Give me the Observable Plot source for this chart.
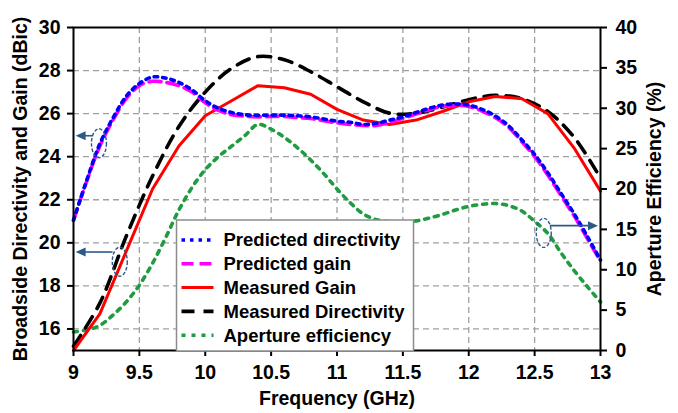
<!DOCTYPE html>
<html><head><meta charset="utf-8">
<script src="https://cdn.jsdelivr.net/npm/d3@7"></script>
<script src="https://cdn.jsdelivr.net/npm/@observablehq/plot@0.6"></script>
<style>
html,body{margin:0;padding:0;background:#fff;}
#chart{width:678px;height:413px;overflow:hidden;}
</style></head><body><div id="chart"></div>
<script>
// ---- data ----
const freqFine = [9.0,9.1,9.2,9.3,9.4,9.5,9.6,9.7,9.8,9.9,10.0,10.1,10.2,10.3,10.4,10.5,10.6,10.7,10.8,10.9,11.0,11.1,11.2,11.3,11.4,11.5,11.6,11.7,11.8,11.9,12.0,12.1,12.2,12.3,12.4,12.5,12.6,12.7,12.8,12.9,13.0];
const predDirectivity = [21.05,22.9,24.6,25.8,26.8,27.4,27.7,27.65,27.45,27.1,26.6,26.25,26.05,25.95,25.92,25.93,25.93,25.9,25.85,25.75,25.65,25.6,25.5,25.55,25.7,25.85,26.05,26.25,26.4,26.45,26.4,26.2,25.9,25.45,24.8,24.1,23.25,22.3,21.35,20.3,19.2];
const predGain = [21.05,22.85,24.5,25.7,26.7,27.3,27.5,27.45,27.3,27.0,26.5,26.15,25.95,25.88,25.85,25.87,25.87,25.82,25.77,25.67,25.57,25.5,25.45,25.45,25.6,25.78,25.98,26.18,26.33,26.38,26.33,26.12,25.82,25.38,24.72,24.0,23.15,22.2,21.25,20.2,19.15];
const apertureEff = [2.3,2.55,3.1,4.4,6.0,8.1,10.8,14.0,17.4,20.2,22.4,24.0,25.3,26.6,28.0,27.4,26.4,25.1,23.6,21.9,20.0,18.3,16.9,16.2,15.95,15.9,16.05,16.4,16.85,17.4,17.85,18.1,18.2,17.95,17.3,16.0,14.5,12.1,9.9,7.9,6.0];
const freqCoarse = [9.0,9.2,9.4,9.6,9.8,10.0,10.2,10.4,10.6,10.8,11.0,11.2,11.4,11.6,11.8,12.0,12.2,12.4,12.6,12.8,13.0];
const measGain = [15.0,16.7,19.6,22.5,24.5,25.9,26.6,27.3,27.2,26.9,26.2,25.7,25.5,25.7,26.1,26.55,26.8,26.7,26.0,24.4,22.4];
const measDirectivity = [15.2,17.2,20.3,23.1,25.4,27.0,28.1,28.65,28.5,27.95,27.25,26.55,26.02,26.02,26.3,26.65,26.85,26.7,26.1,24.9,23.0];
const xTicks = [9,9.5,10,10.5,11,11.5,12,12.5,13];
const yTicks = [16,18,20,22,24,26,28,30];
const effTicks = [0,5,10,15,20,25,30,35,40];
const yDomain = [15,30];
const effDomain = [0,40];
const seriesNames = ["Predicted directivity","Predicted gain","Measured Gain","Measured Directivity","Aperture efficiency"];
// annotation callouts (data coordinates)
const calloutCenters = [{f:9.197,v:24.6,af:9.15,av:24.95,tf:9.02,side:"left"},{f:9.355,v:19.1,af:9.30,av:19.55,tf:9.02,side:"left"},{f:12.573,e:14.5,af:12.62,ae:15.4,tf:12.985,side:"right"}];

// ---- helpers ----
const toLeft = e => yDomain[0] + (e - effDomain[0]) / (effDomain[1] - effDomain[0]) * (yDomain[1] - yDomain[0]);
const fromLeft = v => effDomain[0] + (v - yDomain[0]) / (yDomain[1] - yDomain[0]) * (effDomain[1] - effDomain[0]);

const styles = {
  "Predicted directivity": {stroke:"#0000ff", strokeWidth:3.6, strokeDasharray:"3.5,5"},
  "Predicted gain": {stroke:"#ff00ff", strokeWidth:3.6, strokeDasharray:"12,6"},
  "Measured Gain": {stroke:"#ff0000", strokeWidth:3},
  "Measured Directivity": {stroke:"#000000", strokeWidth:3.6, strokeDasharray:"13,9"},
  "Aperture efficiency": {stroke:"#1f9b40", strokeWidth:3.6, strokeDasharray:"4,6"}
};

const rowsDir = freqFine.map((f,i)=>({f, v:predDirectivity[i]}));
const rowsGain = freqFine.map((f,i)=>({f, v:predGain[i]}));
const rowsEff = freqFine.map((f,i)=>({f, v:toLeft(apertureEff[i])}));
const rowsMG = freqCoarse.map((f,i)=>({f, v:measGain[i]}));
const rowsMD = freqCoarse.map((f,i)=>({f, v:measDirectivity[i]}));

const font = "'Liberation Sans', Arial, sans-serif";
const grid = {stroke:"#a0a0a0", strokeOpacity:1, strokeWidth:1.3, strokeDasharray:"6,4"};

const plot = Plot.plot({
  width: 678, height: 413,
  marginLeft: 73, marginRight: 78, marginTop: 27, marginBottom: 63,
  x: {domain: [9,13]},
  y: {domain: yDomain},
  style: {fontFamily: font, fontSize: "18.5px", fontWeight: "bold", color: "#000", background: "#fff", overflow: "visible"},
  marks: [
    Plot.gridX(xTicks.filter(t => t > 9 && t < 13), grid),
    Plot.gridY(yTicks.filter(t => t < 30), grid),
    Plot.line(rowsEff, {x:"f", y:"v", ...styles["Aperture efficiency"], curve:"catmull-rom"}),
    Plot.line(rowsMD, {x:"f", y:"v", ...styles["Measured Directivity"], curve:"catmull-rom"}),
    Plot.line(rowsMG, {x:"f", y:"v", ...styles["Measured Gain"]}),
    Plot.line(rowsGain, {x:"f", y:"v", ...styles["Predicted gain"], curve:"catmull-rom"}),
    Plot.line(rowsDir, {x:"f", y:"v", ...styles["Predicted directivity"], curve:"catmull-rom"}),
    Plot.frame({stroke:"#000", strokeWidth:2}),
    Plot.axisX({ticks: xTicks, tickSize: 6, tickPadding: 9, strokeWidth: 2, tickFormat: d => String(d),
      label: "Frequency (GHz)", labelAnchor: "center", labelOffset: 54, labelArrow: "none"}),
    Plot.axisY({anchor: "left", ticks: yTicks, tickSize: 6, tickPadding: 7, strokeWidth: 2, tickFormat: d => String(d),
      label: "Broadside Directivity and Gain (dBic)", labelAnchor: "center", labelOffset: 60, labelArrow: "none"}),
    Plot.axisY({anchor: "right", ticks: effTicks.map(toLeft), tickSize: 6, tickPadding: 9, strokeWidth: 2,
      tickFormat: v => String(Math.round(fromLeft(v))),
      label: "Aperture Efficiency (%)", labelAnchor: "center", labelOffset: 60, labelArrow: "none"})
  ]
});
document.getElementById("chart").appendChild(plot);

const svg = d3.select(plot);
svg.selectAll('g[aria-label$="label"] text, g[aria-label$="label"]').style("font-size", "19.5px");
svg.selectAll('g[aria-label$="label"] text').each(function(){
  const t = d3.select(this); t.text(t.text().replace(/\s*[→←↑↓]\s*/g, ""));
});

const xs = plot.scale("x"), ys = plot.scale("y");
const X = f => xs.apply(f), Y = v => ys.apply(v);

// callouts
const ann = svg.append("g").attr("fill", "none").attr("stroke", "#2a5a88");
calloutCenters.forEach(c => {
  const cv = c.side === "left" ? c.v : toLeft(c.e);
  const av = c.side === "left" ? c.av : toLeft(c.ae);
  ann.append("ellipse").attr("cx", X(c.f)).attr("cy", Y(cv)).attr("rx", 7.5).attr("ry", 14.5)
    .attr("stroke-width", 1.4).attr("stroke-dasharray", "3.5,1.8");
  const x1 = X(c.af), x2 = X(c.tf), y = Y(av);
  const dir = x2 > x1 ? 1 : -1;
  ann.append("line").attr("x1", x1).attr("x2", x2 - dir * 8).attr("y1", y).attr("y2", y).attr("stroke-width", 1.6);
  ann.append("path").attr("d", `M${x2},${y}L${x2 - dir*10},${y-4.5}L${x2 - dir*10},${y+4.5}Z`).attr("fill", "#2a5a88").attr("stroke", "none");
});

// legend
const lg = svg.append("g").attr("font-family", font).attr("font-weight", "bold").attr("font-size", "18.5px").attr("text-anchor", "start");
const lx0 = 176.5, ly0 = 220, lw = 237, lh = 131;
lg.append("rect").attr("x", lx0).attr("y", ly0).attr("width", lw).attr("height", lh)
  .attr("fill", "#fff").attr("stroke", "#8c8c8c").attr("stroke-width", 1.5);
seriesNames.forEach((name, i) => {
  const yy = ly0 + 20 + i * 23.8;
  const st = styles[name];
  lg.append("line").attr("x1", lx0 + 5).attr("x2", lx0 + 37).attr("y1", yy).attr("y2", yy)
    .attr("stroke", st.stroke).attr("stroke-width", st.strokeWidth).attr("stroke-dasharray", st.strokeDasharray || null);
  lg.append("text").attr("x", lx0 + 47).attr("y", yy).attr("dy", "0.35em").attr("fill", "#000")
    .style("text-anchor", "start").text(name);
});
</script>
</body></html>
